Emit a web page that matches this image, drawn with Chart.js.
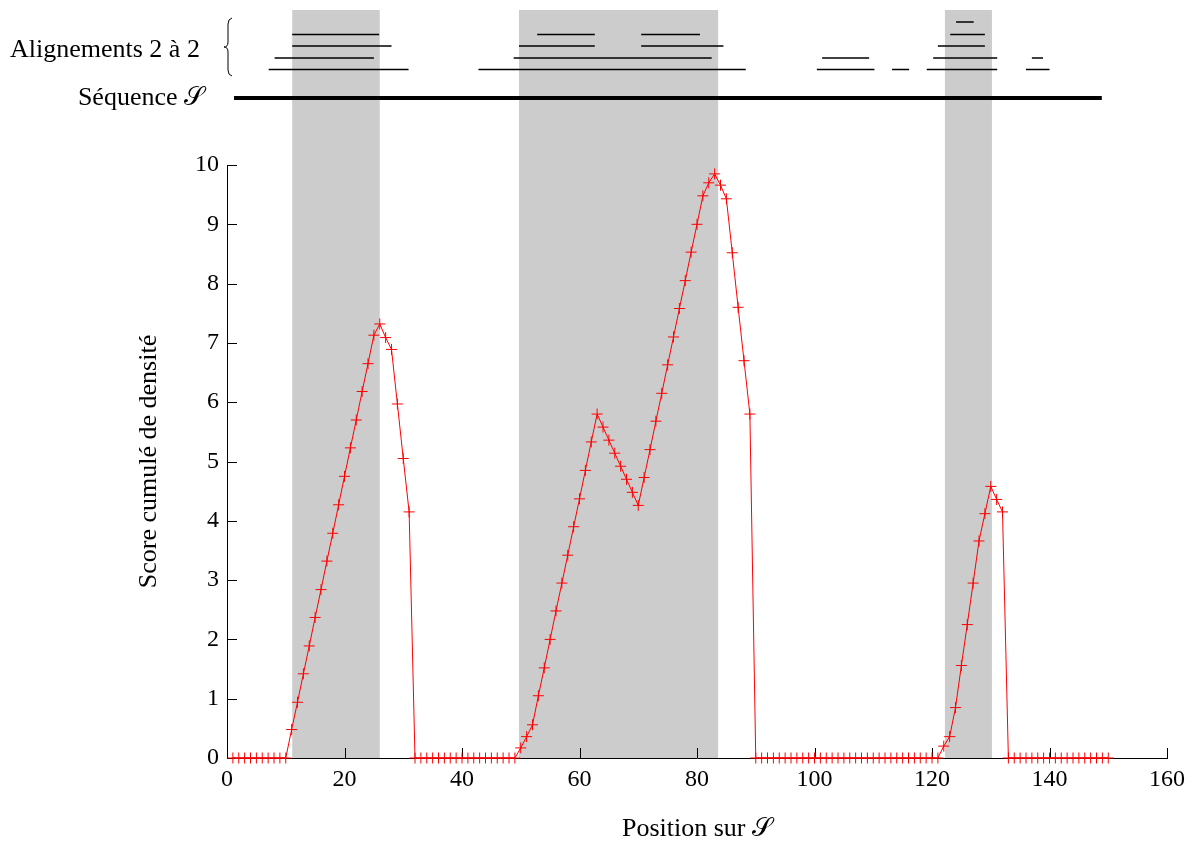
<!DOCTYPE html>
<html>
<head>
<meta charset="utf-8">
<script src="https://cdn.jsdelivr.net/npm/chart.js@4.4.0/dist/chart.umd.min.js"></script>
<style>
html, body { margin: 0; padding: 0; background: #fff; }
</style>
</head>
<body>
<canvas id="myChart" width="1197" height="845"></canvas>
<script>
// score cumulé, position 1 à 150
const firstPosition = 1;
const scores = [
    0, 0, 0, 0, 0, 0, 0, 0, 0, 0,                                   // 1-10
    0.48, 0.94, 1.42, 1.89, 2.37, 2.84, 3.32, 3.79, 4.27, 4.75,     // 11-20
    5.23, 5.70, 6.18, 6.65, 7.13, 7.32, 7.09, 6.89, 5.97, 5.05,     // 21-30
    4.15, 0, 0, 0, 0, 0, 0, 0, 0, 0,                                // 31-40
    0, 0, 0, 0, 0, 0, 0, 0, 0, 0.17,                                // 41-50
    0.36, 0.56, 1.05, 1.52, 2.00, 2.48, 2.95, 3.42, 3.90, 4.37,     // 51-60
    4.85, 5.33, 5.80, 5.58, 5.36, 5.14, 4.92, 4.70, 4.48, 4.26,     // 61-70
    4.73, 5.20, 5.68, 6.15, 6.63, 7.10, 7.58, 8.05, 8.53, 9.00,     // 71-80
    9.48, 9.70, 9.85, 9.66, 9.43, 8.52, 7.60, 6.70, 5.80, 0,        // 81-90
    0, 0, 0, 0, 0, 0, 0, 0, 0, 0,                                   // 91-100
    0, 0, 0, 0, 0, 0, 0, 0, 0, 0,                                   // 101-110
    0, 0, 0, 0, 0, 0, 0, 0, 0, 0,                                   // 111-120
    0, 0.20, 0.36, 0.85, 1.56, 2.25, 2.95, 3.66, 4.12, 4.58,        // 121-130
    4.36, 4.15, 0, 0, 0, 0, 0, 0, 0, 0,                             // 131-140
    0, 0, 0, 0, 0, 0, 0, 0, 0, 0                                    // 141-150
];

// zones grisées (début, fin)
const bandStarts = [11.1, 49.7, 122.2];
const bandEnds = [26.0, 83.6, 130.2];

// alignements 2 à 2 : début, fin, ligne (0 = en haut)
const alignStarts = [124.1, 11.1, 52.8, 70.5, 123.1, 11.1, 49.7, 70.5, 121.0, 8.1, 48.8, 101.3, 120.2, 137.0, 7.1, 42.8, 100.4, 113.2, 119.1, 136.0];
const alignEnds   = [127.1, 25.9, 62.6, 80.5, 129.0, 28.0, 62.6, 84.5, 129.0, 25.0, 82.5, 109.3, 131.1, 138.9, 30.9, 88.3, 110.2, 116.1, 131.1, 140.0];
const alignRows   = [0, 1, 1, 1, 1, 2, 2, 2, 2, 3, 3, 3, 3, 3, 4, 4, 4, 4, 4, 4];

const sequenceStart = 1.2;
const sequenceEnd = 148.9;

const xTicks = [0, 20, 40, 60, 80, 100, 120, 140, 160];
const yTicks = [0, 1, 2, 3, 4, 5, 6, 7, 8, 9, 10];

const FONT = 'Liberation Serif';
const rowY = [22, 34.5, 46, 58, 69.5];

const points = scores.map((v, i) => ({ x: firstPosition + i, y: v }));

const annotations = {
    id: 'annotations',
    beforeDraw(chart) {
        const { ctx, scales: { x }, chartArea } = chart;
        ctx.save();
        ctx.fillStyle = '#cccccc';
        bandStarts.forEach((s, i) => {
            const x0 = x.getPixelForValue(s);
            const x1 = x.getPixelForValue(bandEnds[i]);
            ctx.fillRect(x0, 10, x1 - x0, chartArea.bottom - 10);
        });
        ctx.restore();
    },
    beforeDatasetsDraw(chart) {
        // petites graduations vers l'intérieur
        const { ctx, scales: { x, y }, chartArea } = chart;
        ctx.save();
        ctx.strokeStyle = '#000';
        ctx.lineWidth = 1;
        ctx.beginPath();
        yTicks.forEach(v => {
            const py = Math.round(y.getPixelForValue(v)) + 0.5;
            ctx.moveTo(chartArea.left, py);
            ctx.lineTo(chartArea.left + 10, py);
        });
        xTicks.forEach(v => {
            const px = Math.round(x.getPixelForValue(v)) + 0.5;
            ctx.moveTo(px, chartArea.bottom);
            ctx.lineTo(px, chartArea.bottom - 10);
        });
        ctx.stroke();
        ctx.restore();
    },
    afterDraw(chart) {
        const { ctx, scales: { x } } = chart;
        ctx.save();
        ctx.strokeStyle = '#000';
        ctx.lineWidth = 1.5;
        alignStarts.forEach((s, i) => {
            ctx.beginPath();
            ctx.moveTo(x.getPixelForValue(s), rowY[alignRows[i]]);
            ctx.lineTo(x.getPixelForValue(alignEnds[i]), rowY[alignRows[i]]);
            ctx.stroke();
        });

        // séquence
        ctx.lineWidth = 4;
        ctx.beginPath();
        ctx.moveTo(x.getPixelForValue(sequenceStart), 98);
        ctx.lineTo(x.getPixelForValue(sequenceEnd), 98);
        ctx.stroke();

        // accolade
        const bx = 229, top = 18, bot = 76, mid = 47;
        ctx.lineWidth = 1;
        ctx.beginPath();
        ctx.moveTo(bx + 3, top);
        ctx.quadraticCurveTo(bx - 1, top + 1, bx - 1, top + 6);
        ctx.lineTo(bx - 1, mid - 5);
        ctx.quadraticCurveTo(bx - 1, mid, bx - 5, mid);
        ctx.quadraticCurveTo(bx - 1, mid, bx - 1, mid + 5);
        ctx.lineTo(bx - 1, bot - 6);
        ctx.quadraticCurveTo(bx - 1, bot - 1, bx + 3, bot);
        ctx.stroke();

        ctx.fillStyle = '#000';
        ctx.font = '26px "' + FONT + '"';
        ctx.textBaseline = 'middle';
        ctx.textAlign = 'left';
        ctx.fillText('Alignements 2 à 2', 10, 50);
        ctx.textAlign = 'right';
        ctx.fillText('Séquence 𝒮', 204, 98);
        ctx.restore();
    }
};

const ctx = document.getElementById('myChart').getContext('2d');
const tickFont = { family: FONT, size: 24 };
const titleFont = { family: FONT, size: 26 };

new Chart(ctx, {
    type: 'line',
    data: {
        datasets: [{
            data: points,
            borderColor: '#ff0000',
            borderWidth: 1,
            pointStyle: 'cross',
            pointRadius: 5.5,
            pointBorderWidth: 1,
            pointBorderColor: '#ff0000',
            pointBackgroundColor: '#ff0000',
            tension: 0,
            clip: false
        }]
    },
    options: {
        responsive: false,
        animation: false,
        layout: { padding: { left: 125, top: 165, right: 30, bottom: 0 } },
        plugins: {
            legend: { display: false },
            tooltip: { enabled: false }
        },
        scales: {
            x: {
                type: 'linear',
                min: 0,
                max: 160,
                afterBuildTicks: s => { s.ticks = xTicks.map(v => ({ value: v })); },
                ticks: { font: tickFont, color: '#000', padding: 7, maxRotation: 0 },
                grid: { drawOnChartArea: false, drawTicks: false },
                border: { display: true, color: '#000', width: 1 },
                title: { display: true, text: 'Position sur 𝒮', font: titleFont, color: '#000', padding: { top: 0, bottom: 0 } },
                afterFit: s => { s.height = 87; }
            },
            y: {
                min: 0,
                max: 10,
                afterBuildTicks: s => { s.ticks = yTicks.map(v => ({ value: v })); },
                ticks: { font: tickFont, color: '#000', padding: 8 },
                grid: { drawOnChartArea: false, drawTicks: false },
                border: { display: true, color: '#000', width: 1 },
                title: { display: true, text: 'Score cumulé de densité', font: titleFont, color: '#000', padding: { top: 9, bottom: 0 } },
                afterFit: s => { s.width = 102; }
            }
        }
    },
    plugins: [annotations]
});
</script>
</body>
</html>
